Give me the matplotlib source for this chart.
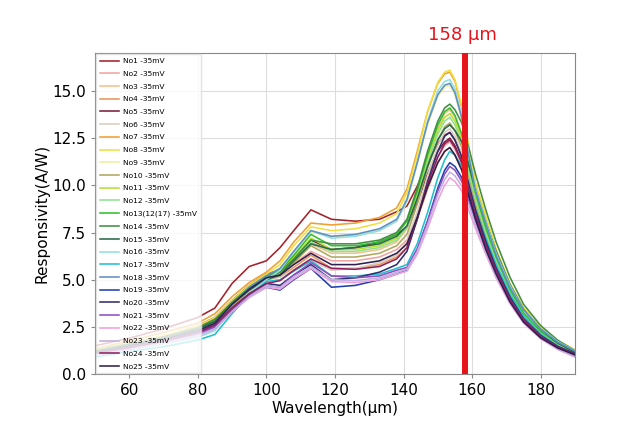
import matplotlib
matplotlib.use("Agg")
import matplotlib.pyplot as plt

wavelength = [50, 60, 70, 80, 85, 90, 95, 100, 104, 108, 113, 119, 126, 133, 138,
              141, 144, 147, 150, 152, 153.5, 155, 157, 159, 161, 164, 167, 171,
              175, 180, 185, 190]

labels = ["No1 -35mV", "No2 -35mV", "No3 -35mV", "No4 -35mV", "No5 -35mV",
          "No6 -35mV", "No7 -35mV", "No8 -35mV", "No9 -35mV", "No10 -35mV",
          "No11 -35mV", "No12 -35mV", "No13(12(17) -35mV", "No14 -35mV",
          "No15 -35mV", "No16 -35mV", "No17 -35mV", "No18 -35mV", "No19 -35mV",
          "No20 -35mV", "No21 -35mV", "No22 -35mV", "No23 -35mV", "No24 -35mV",
          "No25 -35mV"]

colors = ["#a3222c", "#f0a4a0", "#f5c08a", "#e8955a", "#7a1f3a",
          "#d8cfc0", "#f0a030", "#f0e040", "#f3eea0", "#b0a860",
          "#b8e030", "#90e090", "#30c030", "#409040", "#2a6a48",
          "#90e0e0", "#20c0d0", "#6090c0", "#2040b0", "#303070",
          "#9050c0", "#f0a0e0", "#c0b0e0", "#902060", "#302050"]

responsivity = [
    [1.5, 1.9, 2.4, 3.0, 3.5, 4.8, 5.7, 6.0, 6.7, 7.6, 8.7, 8.2, 8.1, 8.2, 8.6,
     8.9, 9.95, 11.2, 12.2, 12.66, 12.8, 12.4, 11.5, 10.1, 8.7, 7.04, 5.63, 4.1, 2.94, 2.05, 1.47, 1.09],
    [1.2, 1.5, 1.9, 2.4, 2.8, 3.8, 4.6, 5.2, 5.35, 5.85, 6.5, 6.0, 6.0, 6.2, 6.6,
     7.1, 8.5, 10.2, 11.5, 12.1, 12.3, 11.9, 11.1, 9.7, 8.4, 6.8, 5.4, 3.9, 2.8, 1.97, 1.41, 1.05],
    [1.2, 1.6, 2.0, 2.5, 2.9, 3.9, 4.7, 5.3, 5.45, 6.1, 6.9, 6.4, 6.4, 6.6, 7.0,
     7.7, 9.4, 11.4, 13.0, 13.8, 14.0, 13.6, 12.6, 11.1, 9.5, 7.7, 6.2, 4.5, 3.2, 2.24, 1.61, 1.19],
    [1.1, 1.5, 1.8, 2.3, 2.7, 3.6, 4.4, 5.0, 5.15, 5.65, 6.3, 5.6, 5.6, 5.8, 6.2,
     6.7, 8.2, 9.8, 11.2, 11.8, 12.0, 11.6, 10.8, 9.5, 8.2, 6.6, 5.3, 3.8, 2.8, 1.92, 1.38, 1.02],
    [1.3, 1.65, 2.0, 2.55, 3.0, 3.9, 4.7, 5.3, 5.5, 6.2, 7.1, 6.6, 6.7, 7.0, 7.4,
     7.8, 9.1, 10.6, 11.8, 12.3, 12.5, 12.1, 11.25, 9.9, 8.5, 6.9, 5.5, 4.0, 2.9, 2.0, 1.44, 1.06],
    [1.1, 1.4, 1.8, 2.2, 2.6, 3.6, 4.4, 5.0, 5.15, 5.5, 6.0, 5.5, 5.6, 5.9, 6.3,
     7.0, 8.6, 10.5, 12.1, 12.8, 13.0, 12.6, 11.7, 10.3, 8.8, 7.15, 5.7, 4.2, 3.0, 2.08, 1.5, 1.1],
    [1.35, 1.75, 2.2, 2.7, 3.2, 4.1, 4.85, 5.4, 6.0, 7.0, 8.0, 7.9, 8.0, 8.3, 8.8,
     9.8, 11.8, 13.9, 15.4, 15.9, 16.0, 15.5, 14.1, 12.0, 10.1, 8.3, 6.6, 4.8, 3.5, 2.48, 1.76, 1.28],
    [1.3, 1.65, 2.05, 2.55, 3.0, 3.9, 4.7, 5.3, 5.8, 6.8, 7.8, 7.6, 7.7, 8.0, 8.5,
     9.6, 11.6, 13.9, 15.45, 16.0, 16.1, 15.6, 14.2, 12.1, 10.1, 8.4, 6.6, 4.8, 3.5, 2.5, 1.77, 1.29],
    [1.2, 1.55, 1.9, 2.4, 2.8, 3.8, 4.6, 5.2, 5.6, 6.5, 7.5, 7.3, 7.35, 7.6, 8.1,
     9.1, 11.1, 13.2, 14.7, 15.2, 15.3, 14.8, 13.5, 11.5, 9.6, 8.0, 6.3, 4.6, 3.4, 2.37, 1.68, 1.22],
    [1.15, 1.5, 1.85, 2.3, 2.7, 3.6, 4.4, 5.0, 5.2, 5.9, 6.8, 6.2, 6.2, 6.4, 6.8,
     7.4, 9.0, 10.9, 12.4, 13.1, 13.3, 12.9, 12.0, 10.5, 9.0, 7.3, 5.85, 4.25, 3.06, 2.13, 1.53, 1.13],
    [1.2, 1.55, 1.9, 2.4, 2.8, 3.8, 4.6, 5.2, 5.4, 6.2, 7.2, 6.6, 6.6, 6.8, 7.2,
     7.85, 9.5, 11.35, 12.9, 13.6, 13.8, 13.4, 12.4, 10.9, 9.4, 7.6, 6.1, 4.4, 3.2, 2.2, 1.59, 1.17],
    [1.15, 1.5, 1.85, 2.3, 2.7, 3.7, 4.5, 5.1, 5.3, 6.05, 7.0, 6.5, 6.5, 6.7, 7.1,
     7.75, 9.3, 11.2, 12.7, 13.4, 13.6, 13.2, 12.2, 10.7, 9.25, 7.5, 6.0, 4.35, 3.1, 2.18, 1.56, 1.16],
    [1.2, 1.55, 1.9, 2.4, 2.8, 3.8, 4.6, 5.2, 5.5, 6.3, 7.4, 6.8, 6.8, 7.0, 7.4,
     8.1, 9.7, 11.6, 13.2, 13.9, 14.1, 13.7, 12.7, 11.1, 9.6, 7.75, 6.2, 4.5, 3.24, 2.26, 1.62, 1.2],
    [1.25, 1.6, 1.95, 2.45, 2.9, 3.8, 4.55, 5.1, 5.4, 6.1, 7.1, 6.9, 6.9, 7.1, 7.5,
     8.2, 9.85, 11.8, 13.4, 14.1, 14.3, 14.0, 13.3, 12.0, 10.6, 8.7, 7.0, 5.15, 3.7, 2.57, 1.79, 1.24],
    [1.2, 1.55, 1.9, 2.4, 2.8, 3.7, 4.45, 5.0, 5.25, 6.0, 6.9, 6.6, 6.7, 6.9, 7.3,
     7.85, 9.3, 11.0, 12.4, 13.0, 13.2, 12.9, 12.3, 11.1, 9.8, 8.05, 6.5, 4.75, 3.43, 2.38, 1.65, 1.15],
    [1.0, 1.3, 1.6, 1.95, 2.3, 3.4, 4.3, 5.0, 5.5, 6.5, 7.6, 7.2, 7.3, 7.6, 8.1,
     9.2, 11.2, 13.4, 15.0, 15.5, 15.6, 15.1, 13.7, 11.7, 9.8, 8.1, 6.4, 4.7, 3.4, 2.42, 1.72, 1.25],
    [0.9, 1.2, 1.45, 1.8, 2.1, 3.2, 4.2, 4.9, 5.0, 5.45, 6.0, 5.2, 5.2, 5.3, 5.6,
     5.8, 6.9, 8.55, 10.4, 11.35, 11.8, 11.6, 11.0, 9.9, 8.7, 7.2, 5.8, 4.25, 3.07, 2.12, 1.48, 1.03],
    [1.15, 1.5, 1.85, 2.3, 2.7, 3.7, 4.6, 5.2, 5.6, 6.5, 7.6, 7.3, 7.4, 7.7, 8.2,
     9.25, 11.2, 13.3, 14.8, 15.3, 15.4, 14.9, 13.55, 11.55, 9.7, 8.0, 6.3, 4.6, 3.4, 2.39, 1.69, 1.23],
    [1.05, 1.35, 1.7, 2.1, 2.5, 3.3, 4.1, 4.6, 4.45, 5.0, 5.6, 4.6, 4.7, 5.0, 5.3,
     5.5, 6.55, 8.1, 9.85, 10.8, 11.2, 11.0, 10.4, 9.4, 8.3, 6.8, 5.5, 4.0, 2.9, 2.0, 1.4, 0.97],
    [1.1, 1.4, 1.75, 2.2, 2.6, 3.5, 4.25, 4.8, 4.7, 5.25, 5.8, 5.0, 5.1, 5.4, 5.8,
     6.5, 8.2, 10.2, 11.8, 12.6, 12.8, 12.4, 11.5, 10.1, 8.7, 7.04, 5.63, 4.1, 2.94, 2.05, 1.47, 1.09],
    [1.05, 1.35, 1.7, 2.1, 2.5, 3.4, 4.15, 4.7, 4.6, 5.25, 5.9, 5.2, 5.1, 5.2, 5.5,
     5.65, 6.65, 8.1, 9.7, 10.6, 11.0, 10.8, 10.2, 9.2, 8.1, 6.7, 5.4, 3.96, 2.86, 1.98, 1.38, 0.96],
    [1.0, 1.3, 1.65, 2.05, 2.4, 3.3, 4.05, 4.6, 4.5, 5.05, 5.6, 4.9, 4.85, 5.0, 5.3,
     5.45, 6.35, 7.7, 9.2, 10.0, 10.4, 10.2, 9.7, 8.7, 7.7, 6.35, 5.1, 3.74, 2.7, 1.87, 1.3, 0.9],
    [1.0, 1.3, 1.65, 2.05, 2.4, 3.3, 4.1, 4.7, 4.6, 5.15, 5.7, 5.0, 4.95, 5.1, 5.4,
     5.55, 6.5, 7.9, 9.5, 10.3, 10.7, 10.5, 9.95, 9.0, 7.9, 6.5, 5.2, 3.85, 2.78, 1.93, 1.34, 0.93],
    [1.1, 1.4, 1.75, 2.2, 2.6, 3.5, 4.25, 4.8, 4.95, 5.5, 6.1, 5.6, 5.55, 5.7, 6.1,
     6.7, 8.25, 10.05, 11.5, 12.2, 12.4, 12.0, 11.2, 9.8, 8.4, 6.8, 5.5, 3.97, 2.85, 1.98, 1.43, 1.05],
    [1.15, 1.5, 1.85, 2.3, 2.7, 3.7, 4.5, 5.1, 5.25, 5.8, 6.4, 5.8, 5.8, 6.0, 6.4,
     6.9, 8.3, 9.9, 11.2, 11.8, 12.0, 11.6, 10.8, 9.5, 8.2, 6.6, 5.3, 3.84, 2.76, 1.92, 1.38, 1.02],
]

marker_wavelength = 158
marker_label = "158 \u03bcm"

fig = plt.figure(figsize=(6.41, 4.32), dpi=100)
ax = fig.add_axes([0.148, 0.134, 0.749, 0.743])

for lab, col, vals in zip(labels, colors, responsivity):
    ax.plot(wavelength, vals, color=col, lw=1.15, label=lab,
            solid_joinstyle="round")

ax.axvline(marker_wavelength, color="#e8141c", lw=4.3, zorder=5)
ax.text(marker_wavelength - 0.8, 17.95, marker_label, color="#e8141c",
        fontsize=13, ha="center", va="center")

ax.set_xlim(50, 190)
ax.set_ylim(0, 17)
ax.set_xticks([60, 80, 100, 120, 140, 160, 180])
ax.set_yticks([0, 2.5, 5, 7.5, 10, 12.5, 15])
ax.set_yticklabels(["0.0", "2.5", "5.0", "7.5", "10.0", "12.5", "15.0"])
ax.tick_params(labelsize=11, length=3, color="#888888")
ax.grid(True, color="#dddddd", lw=0.8)
ax.set_axisbelow(True)
for s in ax.spines.values():
    s.set_color("#888888")
ax.set_xlabel("Wavelength(\u03bcm)", fontsize=11, labelpad=2)
ax.set_ylabel("Responsivity(A/W)", fontsize=11, labelpad=2)

leg = ax.legend(loc="upper left", fontsize=5.4, labelspacing=0.86,
                handlelength=2.6, handletextpad=0.5, frameon=True,
                framealpha=0.8, borderaxespad=0.15, borderpad=0.5,
                fancybox=False, edgecolor="#dddddd")

fig.savefig("out.png", dpi=100)
